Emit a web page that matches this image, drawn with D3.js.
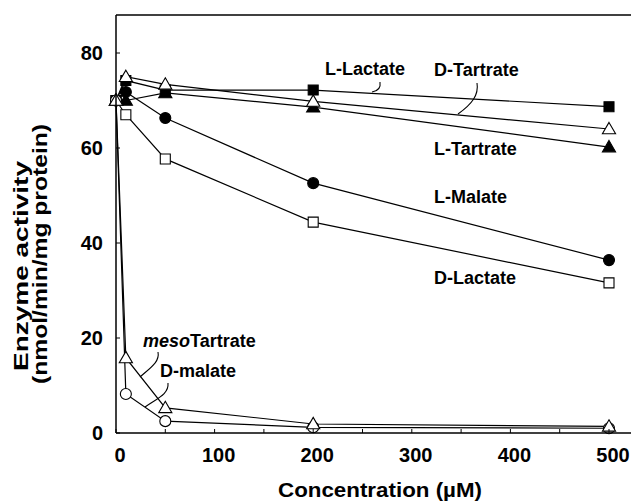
<!DOCTYPE html>
<html>
<head>
<meta charset="utf-8">
<script src="https://cdn.jsdelivr.net/npm/d3@7"></script>
<style>
  body { margin: 0; background: #fff; }
  text { font-family: "Liberation Sans", Arial, sans-serif; font-weight: bold; fill: #000; }
</style>
</head>
<body>
<div id="chart"></div>
<script>
// concentrations (uM) and enzyme activity per substrate
const conc = [0, 10, 50, 200, 500];
const lLactate = [70, 74.2, 72.2, 72.2, 68.7];
const dTartrate = [70, 75, 73.4, 69.8, 64];
const lTartrate = [70, 70, 71.6, 68.6, 60.2];
const lMalate = [70, 71.8, 66.3, 52.6, 36.4];
const dLactate = [70, 67, 57.7, 44.4, 31.6];
const mesoTartrate = [70, 15.8, 5.3, 1.9, 1.4];
const dMalate = [70, 8.2, 2.5, 1.2, 1.0];

const xTicks = [0, 100, 200, 300, 400, 500];
const xMinor = [50, 150, 250, 350, 450];
const yTicks = [0, 20, 40, 60, 80];

const W = 631, H = 501;
const x = d3.scaleLinear().domain([0, 530]).range([116, 116 + 530 * 0.986]);
const y = d3.scaleLinear().domain([0, 88]).range([433, 15]);

const svg = d3.select("#chart").append("svg")
    .attr("width", W).attr("height", H);

const series = [
    {name: "dLactate", vals: dLactate, shape: "square", fill: "#fff"},
    {name: "lMalate", vals: lMalate, shape: "circle", fill: "#000"},
    {name: "lTartrate", vals: lTartrate, shape: "triangle", fill: "#000"},
    {name: "lLactate", vals: lLactate, shape: "square", fill: "#000"},
    {name: "dTartrate", vals: dTartrate, shape: "triangle", fill: "#fff"},
    {name: "dMalate", vals: dMalate, shape: "circle", fill: "#fff"},
    {name: "mesoTartrate", vals: mesoTartrate, shape: "triangle", fill: "#fff"}
];

// top line of the frame
const g = svg.append("g");
g.append("line").attr("x1", x(0)).attr("x2", W).attr("y1", y(88)).attr("y2", y(88))
    .attr("stroke", "#000").attr("stroke-width", 1.3);

const line = d3.line().x(d => x(d[0])).y(d => y(d[1]));

series.forEach(s => {
    g.append("path")
        .datum(conc.map((c, i) => [c, s.vals[i]]))
        .attr("d", line)
        .attr("fill", "none")
        .attr("stroke", "#000")
        .attr("stroke-width", 1.2);
});

const sym = {
    square: d3.symbol().type(d3.symbolSquare).size(100),
    circle: d3.symbol().type(d3.symbolCircle).size(95),
    triangle: d3.symbol().type(d3.symbolTriangle).size(75)
};

series.forEach(s => {
    g.selectAll(null)
        .data(conc.map((c, i) => [c, s.vals[i]]))
        .enter().append("path")
        .attr("d", sym[s.shape])
        .attr("transform", d => "translate(" + x(d[0]) + "," + (y(d[1]) + (s.shape === "triangle" ? 1 : 0)) + ")")
        .attr("fill", s.fill)
        .attr("stroke", "#000")
        .attr("stroke-width", 1.1);
});

// axes
const xAxis = svg.append("g").attr("transform", "translate(0," + y(0) + ")");
xAxis.append("line").attr("x1", x(0)).attr("x2", W).attr("stroke", "#000").attr("stroke-width", 1.5);
xAxis.selectAll(".tk").data(xTicks.concat(xMinor)).enter().append("line")
    .attr("x1", d => x(d)).attr("x2", d => x(d)).attr("y1", 0).attr("y2", -4)
    .attr("stroke", "#000").attr("stroke-width", 1);
xAxis.selectAll(".lb").data(xTicks).enter().append("text")
    .attr("x", d => x(d) + 4).attr("y", 29)
    .attr("text-anchor", "middle").style("font-size", "20px")
    .text(d => d);

const yAxis = svg.append("g").attr("transform", "translate(" + x(0) + ",0)");
yAxis.append("line").attr("y1", y(0)).attr("y2", y(88)).attr("stroke", "#000").attr("stroke-width", 1.5);
yAxis.selectAll(".tk").data(yTicks).enter().append("line")
    .attr("y1", d => y(d)).attr("y2", d => y(d)).attr("x1", 0).attr("x2", 4)
    .attr("stroke", "#000").attr("stroke-width", 1);
yAxis.selectAll(".lb").data(yTicks).enter().append("text")
    .attr("x", -13).attr("y", d => y(d) + 7)
    .attr("text-anchor", "end").style("font-size", "20px")
    .text(d => d);

// axis titles
svg.append("text").attr("x", 380).attr("y", 497).attr("text-anchor", "middle")
    .style("font-size", "19.5px").attr("textLength", 204).attr("lengthAdjust", "spacingAndGlyphs")
    .text("Concentration (\u00b5M)");
const yt = svg.append("g").attr("transform", "rotate(-90)");
yt.append("text").attr("x", -266).attr("y", 28).attr("text-anchor", "middle")
    .style("font-size", "21px").attr("textLength", 210).attr("lengthAdjust", "spacingAndGlyphs")
    .text("Enzyme activity");
yt.append("text").attr("x", -254).attr("y", 47).attr("text-anchor", "middle")
    .style("font-size", "21px").attr("textLength", 260).attr("lengthAdjust", "spacingAndGlyphs")
    .text("(nmol/min/mg protein)");

// series labels
const labels = [
    {t: "L-Lactate", x: 325, y: 75},
    {t: "D-Tartrate", x: 434, y: 76},
    {t: "L-Tartrate", x: 434, y: 155},
    {t: "L-Malate", x: 434, y: 203},
    {t: "D-Lactate", x: 434, y: 284},
    {t: "D-malate", x: 160, y: 377}
];
labels.forEach(l => {
    svg.append("text").attr("x", l.x).attr("y", l.y).style("font-size", "18px").text(l.t);
});
const meso = svg.append("text").attr("x", 143).attr("y", 347).style("font-size", "18px");
meso.append("tspan").style("font-style", "italic").text("meso");
meso.append("tspan").text("Tartrate");

// leader lines
const leaders = [
    "M380,82 C381,88 378,91 372,92",
    "M477,83 C479,95 472,104 458,114",
    "M158,352 C160,362 150,368 140,377",
    "M168,383 C169,394 158,398 145,407"
];
leaders.forEach(d => {
    svg.append("path").attr("d", d).attr("fill", "none").attr("stroke", "#000").attr("stroke-width", 1.1);
});
</script>
</body>
</html>
